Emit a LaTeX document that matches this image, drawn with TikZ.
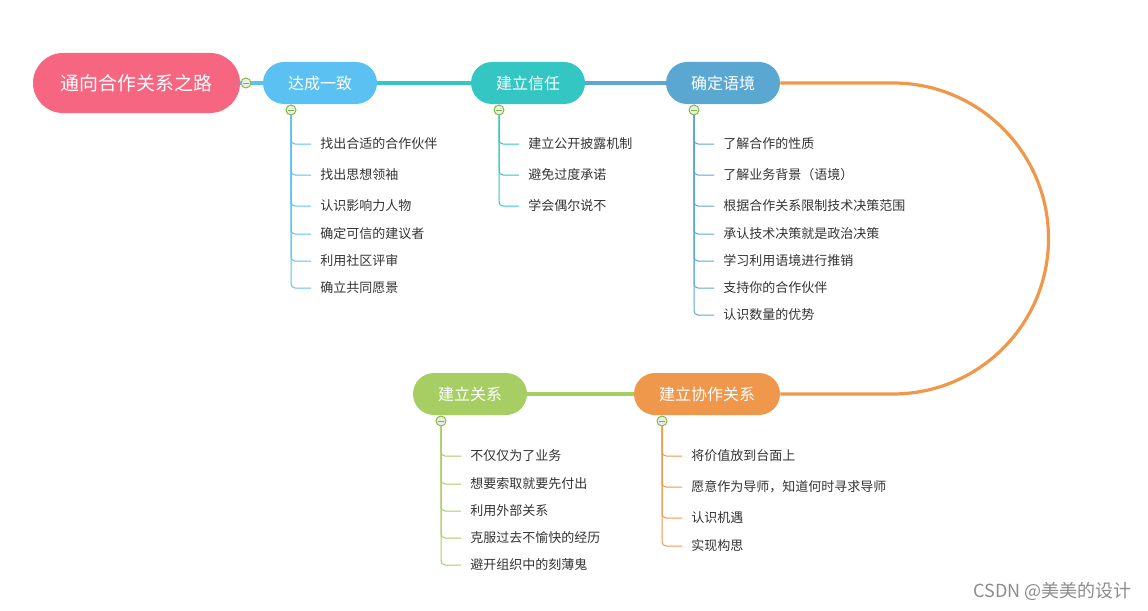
\documentclass[tikz,border=0pt]{standalone}
\usepackage{fontspec}
\setmainfont{Noto Sans CJK SC}
\definecolor{cRoot}{HTML}{F66680}
\definecolor{cB1}{HTML}{5BC1F2}
\definecolor{cB2}{HTML}{33C6C3}
\definecolor{cB3}{HTML}{5AA8D1}
\definecolor{cB4}{HTML}{EF974A}
\definecolor{cB5}{HTML}{A6CE62}
\definecolor{cTxt}{HTML}{333333}
\definecolor{cTog}{HTML}{7DB544}
\definecolor{cTogF}{HTML}{E9EFE3}
\begin{document}
\begin{tikzpicture}[x=0.75pt,y=-0.75pt,
  rootbox/.style={rectangle, rounded corners=22.5pt, fill=cRoot, text=white,
    minimum width=155.25pt, minimum height=45pt, font=\fontsize{14.2pt}{16pt}\selectfont, inner sep=0},
  branchbox/.style={rectangle, rounded corners=15.75pt, fill=#1, text=white,
    minimum width=85.5pt, minimum height=31.5pt, font=\fontsize{12pt}{14pt}\selectfont, inner sep=0},
  leaf/.style={anchor=west, inner xsep=6.75pt, inner ysep=1pt, text=cTxt,
    font=\fontsize{9.75pt}{11pt}\selectfont},
  toggle/.style={circle, draw=cTog, fill=cTogF, line width=0.7pt, minimum size=7.5pt, inner sep=0,
    path picture={\draw[cTog, line width=0.7pt]
      ([xshift=-2.3pt]path picture bounding box.center) -- ([xshift=2.3pt]path picture bounding box.center);}},
  mainline/.style={line width=2.4pt, draw=#1},
  leafline/.style={line width=0.75pt, draw=#1, rounded corners=3pt}
]
\useasboundingbox (0,0) rectangle (1148,610);

% main nodes
\node[rootbox] (root) at (136.5,83) {通向合作关系之路};
\node[branchbox=cB1] (b1) at (320,83) {达成一致};
\node[branchbox=cB2] (b2) at (528,83) {建立信任};
\node[branchbox=cB3] (b3) at (723,83) {确定语境};
\node[branchbox=cB4, minimum width=109.5pt] (b4) at (707,394) {建立协作关系};
\node[branchbox=cB5] (b5) at (470,394) {建立关系};

\coordinate (arcA) at (893,83);
\coordinate (arcB) at (893,394);

% main connectors
\draw[mainline=cB1] (root.east) -- (b1.west);
\draw[mainline=cB2] (b1.east) -- (b2.west);
\draw[mainline=cB3] (b2.east) -- (b3.west);
\draw[mainline=cB4] (b3.east) -- (arcA)
  .. controls (978.9,83) and (1048.5,152.6) .. (1048.5,238.5)
  .. controls (1048.5,324.4) and (978.9,394) .. (arcB) -- (b4.east);
\draw[mainline=cB5] (b4.west) -- (b5.east);

% toggles
\node[toggle] (t0) at (246,83) {};
\node[toggle] (t1) at (291,110) {};
\node[toggle] (t2) at (499,110) {};
\node[toggle] (t3) at (694,110) {};
\node[toggle] (t4) at (662,421) {};
\node[toggle] (t5) at (441,421) {};

% leaves branch 1
\node[leaf] (l11) at (311,144) {找出合适的合作伙伴};
\node[leaf] (l12) at (311,175) {找出思想领袖};
\node[leaf] (l13) at (311,206) {认识影响力人物};
\node[leaf] (l14) at (311,234) {确定可信的建议者};
\node[leaf] (l15) at (311,261) {利用社区评审};
\node[leaf] (l16) at (311,288) {确立共同愿景};
\foreach \n in {l11,l12,l13,l14,l15,l16} \draw[leafline=cB1] (t1.south) |- (\n.west);

% leaves branch 2
\node[leaf] (l21) at (519,144) {建立公开披露机制};
\node[leaf] (l22) at (519,175) {避免过度承诺};
\node[leaf] (l23) at (519,206) {学会偶尔说不};
\foreach \n in {l21,l22,l23} \draw[leafline=cB2] (t2.south) |- (\n.west);

% leaves branch 3
\node[leaf] (l31) at (714,144) {了解合作的性质};
\node[leaf] (l32) at (714,175) {了解业务背景（语境）};
\node[leaf] (l33) at (714,206) {根据合作关系限制技术决策范围};
\node[leaf] (l34) at (714,234) {承认技术决策就是政治决策};
\node[leaf] (l35) at (714,261) {学习利用语境进行推销};
\node[leaf] (l36) at (714,288) {支持你的合作伙伴};
\node[leaf] (l37) at (714,315) {认识数量的优势};
\foreach \n in {l31,l32,l33,l34,l35,l36,l37} \draw[leafline=cB3] (t3.south) |- (\n.west);

% leaves branch 4
\node[leaf] (l41) at (682,456) {将价值放到台面上};
\node[leaf] (l42) at (682,487) {愿意作为导师，知道何时寻求导师};
\node[leaf] (l43) at (682,518) {认识机遇};
\node[leaf] (l44) at (682,546) {实现构思};
\foreach \n in {l41,l42,l43,l44} \draw[leafline=cB4] (t4.south) |- (\n.west);

% leaves branch 5
\node[leaf] (l51) at (461,456) {不仅仅为了业务};
\node[leaf] (l52) at (461,484) {想要索取就要先付出};
\node[leaf] (l53) at (461,511) {利用外部关系};
\node[leaf] (l54) at (461,538) {克服过去不愉快的经历};
\node[leaf] (l55) at (461,565) {避开组织中的刻薄鬼};
\foreach \n in {l51,l52,l53,l54,l55} \draw[leafline=cB5] (t5.south) |- (\n.west);

% watermark
\node[text=black!45, font=\fontsize{13.5pt}{15pt}\selectfont, anchor=east, inner sep=0] (wm) at (1132,591) {CSDN @美美的设计};
\end{tikzpicture}
\end{document}
